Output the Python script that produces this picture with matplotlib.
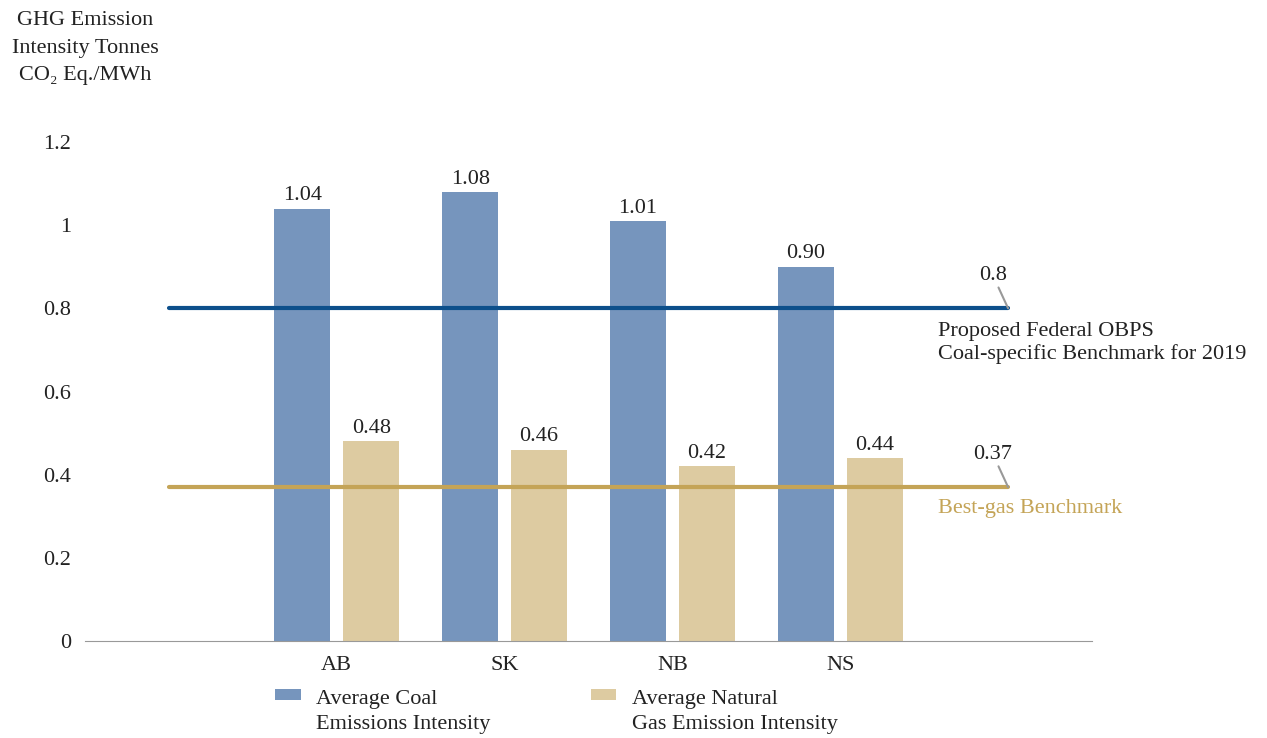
import matplotlib.pyplot as plt
import numpy as np

plt.rcParams['font.family'] = ['Liberation Serif', 'DejaVu Serif']

provinces = ['', 'AB', 'SK', 'NB', 'NS', '']
coal = [1.04, 1.08, 1.01, 0.90]
gas = [0.48, 0.46, 0.42, 0.44]
coal_labels = ['1.04', '1.08', '1.01', '0.90']
gas_labels = ['0.48', '0.46', '0.42', '0.44']
obps_benchmark = 0.8
gas_benchmark = 0.37

coal_color = '#7695bd'
gas_color = '#ddcba1'
obps_color = '#0c4f8b'
bench_color = '#c4a457'
fs = 16

fig = plt.figure(figsize=(12.67, 7.38), dpi=100)
ax = fig.add_axes([0.0671, 0.1314, 0.7948, 0.6762])

x = np.arange(1, 5)
w = 0.335
b1 = ax.bar(x - 0.205, coal, w, color=coal_color, label='Average Coal\nEmissions Intensity')
b2 = ax.bar(x + 0.205, gas, w, color=gas_color, label='Average Natural\nGas Emission Intensity')

for xi, v, t in zip(x - 0.205, coal, coal_labels):
    ax.annotate(t, (xi, v), textcoords='offset points', xytext=(0, 6), ha='center', fontsize=fs, color='#222222')
for xi, v, t in zip(x + 0.205, gas, gas_labels):
    ax.annotate(t, (xi, v), textcoords='offset points', xytext=(0, 6), ha='center', fontsize=fs, color='#222222')

# benchmark lines
ax.plot([0, 5], [obps_benchmark, obps_benchmark], color=obps_color, lw=3, solid_capstyle='round')
ax.plot([0, 5], [gas_benchmark, gas_benchmark], color=bench_color, lw=3, solid_capstyle='round')

ax.annotate('0.8', xy=(5, obps_benchmark), xytext=(-11, 17), textcoords='offset points',
            ha='center', va='bottom', fontsize=fs, color='#222222',
            arrowprops=dict(arrowstyle='-', color='#999999', lw=1.5, shrinkA=0, shrinkB=0))
ax.annotate('0.37', xy=(5, gas_benchmark), xytext=(-11, 17), textcoords='offset points',
            ha='center', va='bottom', fontsize=fs, color='#222222',
            arrowprops=dict(arrowstyle='-', color='#999999', lw=1.5, shrinkA=0, shrinkB=0))
ax.text(4.58, 0.768, 'Proposed Federal OBPS\nCoal-specific Benchmark for 2019', ha='left', va='top',
        fontsize=fs, color='#222222', linespacing=1.2)
ax.text(4.58, 0.342, 'Best-gas Benchmark', ha='left', va='top', fontsize=fs, color=bench_color)

ax.set_xlim(-0.5, 5.5)
ax.set_ylim(0, 1.2)
ax.set_xticks(range(6))
ax.set_xticklabels(provinces, fontsize=fs)
ax.set_yticks([0, 0.2, 0.4, 0.6, 0.8, 1.0, 1.2])
ax.set_yticklabels(['0', '0.2', '0.4', '0.6', '0.8', '1', '1.2'], fontsize=fs)
ax.tick_params(length=0, colors='#222222')
ax.tick_params(axis='y', pad=10)
ax.tick_params(axis='x', pad=11)
for s in ['top', 'right', 'left']:
    ax.spines[s].set_visible(False)
ax.spines['bottom'].set_color('#999999')

fig.text(0.067, 0.985, 'GHG Emission\nIntensity Tonnes\nCO₂ Eq./MWh', ha='center', va='top',
         fontsize=fs, color='#222222', linespacing=1.62)

leg = ax.legend(handles=[b1, b2], loc='upper left', bbox_to_anchor=(0.18, -0.08), ncol=2,
                frameon=False, fontsize=fs, handlelength=1.15, handleheight=0.4, columnspacing=4.5,
                labelspacing=0.2, handletextpad=0.7, borderaxespad=0)
for t in leg.get_texts():
    t.set_color('#222222')
    t.set_linespacing(1.45)
for p in leg.get_patches():
    p.set_y(p.get_y() + 12)

fig.savefig('out.png', dpi=100)
